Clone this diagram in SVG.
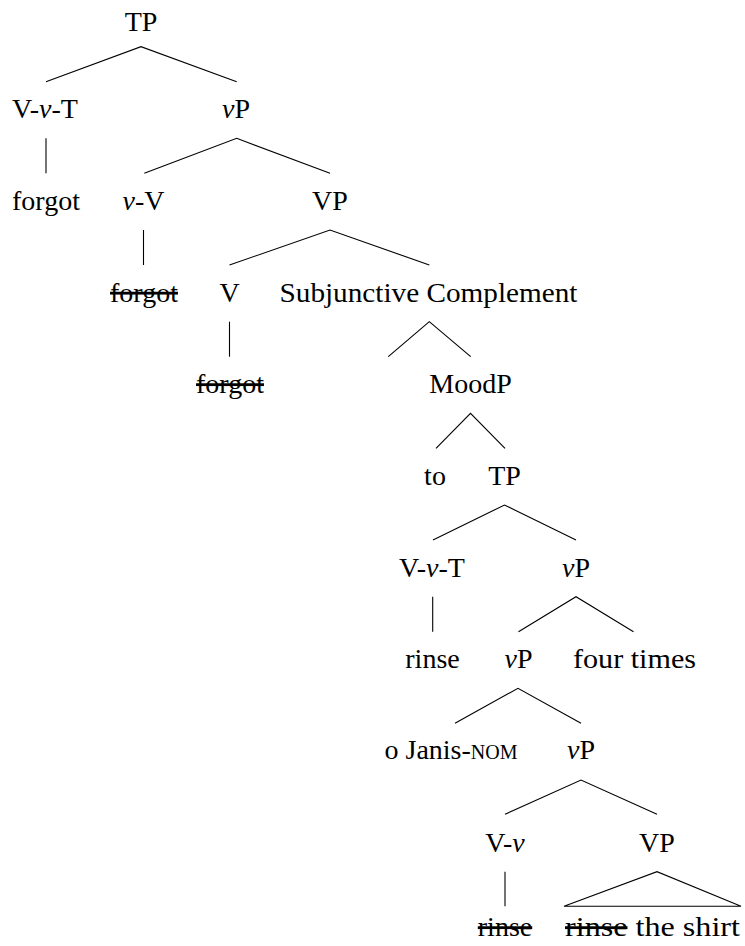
<svg xmlns="http://www.w3.org/2000/svg" width="745" height="946" viewBox="0 0 745 946">
<style>
  .t text { font-family: 'Liberation Serif', 'DejaVu Serif', serif; font-size: 28px; fill: #000; text-anchor: middle; }
  .i { font-style: italic; }
  .s { text-decoration: line-through; }
  .sc { font-variant: small-caps; }
  .edge { stroke: #000; stroke-width: 1.1; fill: none; }
</style>
<rect width="745" height="946" fill="#fff"/>
<g id="connectors">
  <polyline class="edge" points="46,81.7 141,46.7 236.7,81.7"/>
  <line class="edge" x1="46" y1="138.3" x2="46" y2="173.3"/>
  <polyline class="edge" points="144.3,173.3 236.7,138.3 330,173.3"/>
  <line class="edge" x1="143.5" y1="230" x2="143.5" y2="265"/>
  <polyline class="edge" points="229.5,265 330,230 429.3,265"/>
  <line class="edge" x1="229.5" y1="321.7" x2="229.5" y2="356.7"/>
  <polyline class="edge" points="388.3,356.7 429.3,321.7 470.7,356.7"/>
  <polyline class="edge" points="436,448.3 470.5,413.3 505,448.3"/>
  <polyline class="edge" points="433,540 504.5,505 576,540"/>
  <line class="edge" x1="432.7" y1="596.7" x2="432.7" y2="631.7"/>
  <polyline class="edge" points="518.5,631.7 576,596.7 633.5,631.7"/>
  <polyline class="edge" points="455,723.3 518,688.3 581,723.3"/>
  <polyline class="edge" points="505,814.3 581,780 657,814.3"/>
  <line class="edge" x1="505" y1="871.7" x2="505" y2="906.3"/>
  <polygon class="edge" points="564,906.3 657,871.7 741,906.3"/>
</g>
<g class="t" font-family="Liberation Serif, serif">
<g id="n-TP1"><text x="141" y="31">TP</text></g>
<g id="n-VvT1"><text x="45" y="118">V-<tspan class="i">v</tspan>-T</text></g>
<g id="n-vP1"><text x="236" y="118"><tspan class="i">v</tspan>P</text></g>
<g id="n-forgot1"><text x="46" y="209.5">forgot</text></g>
<g id="n-vV"><text x="143.5" y="209.5"><tspan class="i">v</tspan>-V</text></g>
<g id="n-VP1"><text x="330" y="209.5">VP</text></g>
<g id="n-forgot2"><text class="s" x="144" y="301.5">forgot</text></g>
<g id="n-V"><text x="229.5" y="301.5">V</text></g>
<g id="n-SC"><text x="428.5" y="301.5" textLength="298" lengthAdjust="spacingAndGlyphs">Subjunctive Complement</text></g>
<g id="n-forgot3"><text class="s" x="230" y="393">forgot</text></g>
<g id="n-MoodP"><text x="470.5" y="393">MoodP</text></g>
<g id="n-to"><text x="435" y="484.5">to</text></g>
<g id="n-TP2"><text x="504.5" y="484.5">TP</text></g>
<g id="n-VvT2"><text x="432" y="576.5">V-<tspan class="i">v</tspan>-T</text></g>
<g id="n-vP2"><text x="576" y="576.5"><tspan class="i">v</tspan>P</text></g>
<g id="n-rinse1"><text x="432.5" y="668">rinse</text></g>
<g id="n-vP3"><text x="518.5" y="668"><tspan class="i">v</tspan>P</text></g>
<g id="n-four"><text x="634.5" y="668" textLength="123" lengthAdjust="spacingAndGlyphs">four times</text></g>
<g id="n-Janis"><text x="451" y="759">o Janis-<tspan class="sc">nom</tspan></text></g>
<g id="n-vP4"><text x="581" y="759"><tspan class="i">v</tspan>P</text></g>
<g id="n-Vv"><text x="505" y="851.5">V-<tspan class="i">v</tspan></text></g>
<g id="n-VP2"><text x="657" y="851.5">VP</text></g>
<g id="n-rinse2"><text class="s" x="505" y="936">rinse</text></g>
<g id="n-shirt"><text x="652.5" y="936" textLength="175" lengthAdjust="spacingAndGlyphs"><tspan class="s">rinse</tspan> the shirt</text></g>
</g>
</svg>
